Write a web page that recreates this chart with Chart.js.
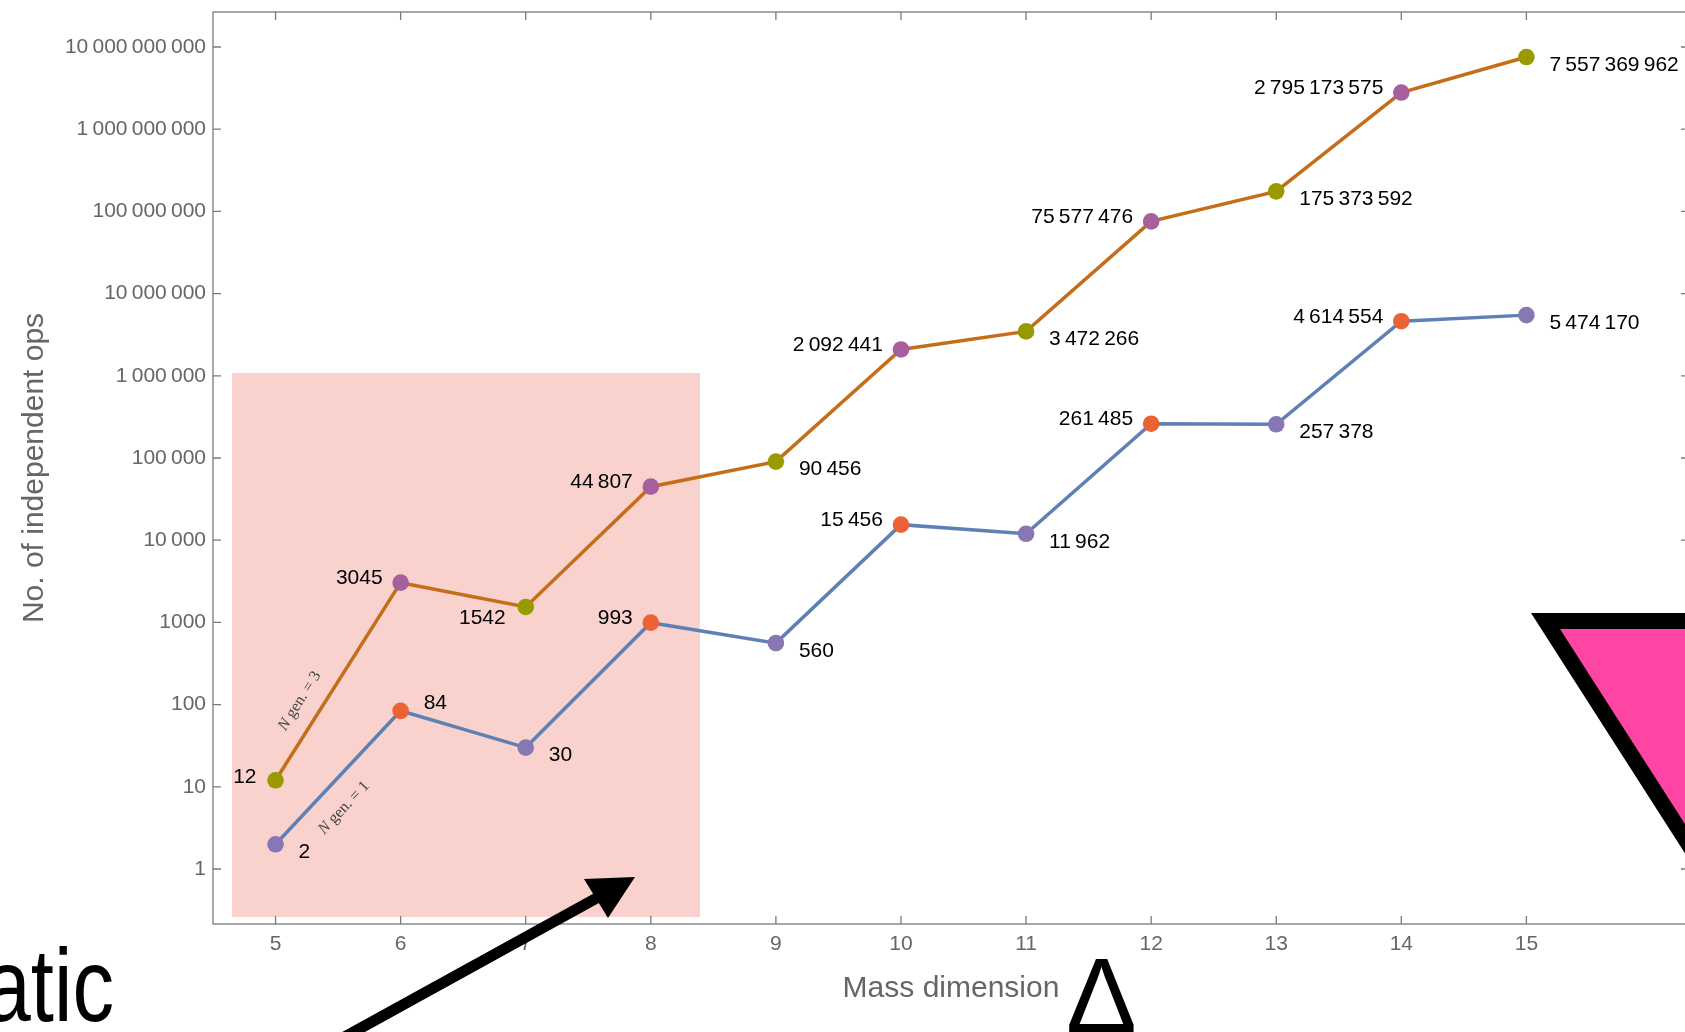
<!DOCTYPE html>
<html>
<head>
<meta charset="utf-8">
<script src="https://cdn.jsdelivr.net/npm/chart.js@4.4.1/dist/chart.umd.min.js"></script>
<style>
html, body { margin: 0; padding: 0; background: #fff; overflow: hidden; }
#wrap { width: 1685px; height: 1032px; overflow: hidden; position: relative; }
canvas { display: block; }
</style>
</head>
<body>
<div id="wrap"><canvas id="opsChart" width="1700" height="1032"></canvas></div>
<script>
const massDims = [5, 6, 7, 8, 9, 10, 11, 12, 13, 14, 15];
const opsGen3 = [12, 3045, 1542, 44807, 90456, 2092441, 3472266, 75577476, 175373592, 2795173575, 7557369962];
const opsGen1 = [2, 84, 30, 993, 560, 15456, 11962, 261485, 257378, 4614554, 5474170];
const yTicks = [1, 10, 100, 1000, 1e4, 1e5, 1e6, 1e7, 1e8, 1e9, 1e10];
const xTicks = [5, 6, 7, 8, 9, 10, 11, 12, 13, 14, 15];

// which side of its point each number label sits on
const sideGen3 = ['l', 'ul', 'dl', 'ul', 'dr', 'ul', 'dr', 'ul', 'dr', 'ul', 'dr'];
const sideGen1 = ['dr', 'ur', 'dr', 'ul', 'dr', 'ul', 'dr', 'ul', 'dr', 'ul', 'dr'];

const FONT = '"Liberation Sans", Arial, Helvetica, sans-serif';
const GRAY = '#666666';

function fmt(n) {
    const s = String(Math.round(n));
    if (s.length <= 4) return s;
    let out = '';
    for (let i = 0; i < s.length; i++) {
        if (i > 0 && (s.length - i) % 3 === 0) out += '\u2009';
        out += s[i];
    }
    return out;
}

const offsets = {
    ul: { dx: -18, dy: -4, align: 'right' },
    dl: { dx: -20, dy: 11, align: 'right' },
    dr: { dx: 23, dy: 8, align: 'left' },
    ur: { dx: 23, dy: -8, align: 'left' },
    l:  { dx: -19, dy: -3, align: 'right' }
};

const pinkBox = {
    id: 'pinkBox',
    beforeDatasetsDraw(chart) {
        const ctx = chart.ctx;
        ctx.save();
        ctx.fillStyle = '#f9d1cd';
        ctx.fillRect(232, 373, 468, 544);
        ctx.restore();
    }
};

const frame = {
    id: 'frame',
    beforeDatasetsDraw(chart) {
        const { ctx, chartArea: a, scales } = chart;
        ctx.save();
        ctx.strokeStyle = '#7a7a7a';
        ctx.lineWidth = 1.3;
        ctx.strokeRect(a.left, a.top, a.right - a.left, a.bottom - a.top);
        ctx.beginPath();
        xTicks.forEach(v => {
            const x = scales.x.getPixelForValue(v);
            ctx.moveTo(x, a.bottom); ctx.lineTo(x, a.bottom - 8);
            ctx.moveTo(x, a.top); ctx.lineTo(x, a.top + 8);
        });
        yTicks.forEach(v => {
            const y = scales.y.getPixelForValue(v);
            ctx.moveTo(a.left, y); ctx.lineTo(a.left + 8, y);
            ctx.moveTo(a.right, y); ctx.lineTo(a.right - 8, y);
        });
        ctx.stroke();
        ctx.restore();
    }
};

function segLabel(ctx, p0, p1, along, perp, num) {
    const dx = p1.x - p0.x, dy = p1.y - p0.y;
    const len = Math.hypot(dx, dy);
    const ux = dx / len, uy = dy / len;
    const cx = (p0.x + p1.x) / 2 + along * ux + perp * uy;
    const cy = (p0.y + p1.y) / 2 + along * uy - perp * ux;
    ctx.save();
    ctx.translate(cx, cy);
    ctx.rotate(Math.atan2(dy, dx));
    ctx.fillStyle = '#444';
    ctx.textBaseline = 'middle';
    ctx.textAlign = 'left';
    const fN = 'italic 16px "Liberation Serif", "Times New Roman", serif';
    const fR = '16px "Liberation Serif", "Times New Roman", serif';
    const rest = ' gen. = ' + num;
    ctx.font = fN;
    const wN = ctx.measureText('N').width;
    ctx.font = fR;
    const wR = ctx.measureText(rest).width;
    const x0 = -(wN + wR) / 2;
    ctx.font = fN;
    ctx.fillText('N', x0, 0);
    ctx.font = fR;
    ctx.fillText(rest, x0 + wN, 0);
    ctx.restore();
}

const callouts = {
    id: 'callouts',
    afterDatasetsDraw(chart) {
        const ctx = chart.ctx;
        ctx.save();
        ctx.font = '21px ' + FONT;
        ctx.fillStyle = '#000';
        ctx.textBaseline = 'middle';
        [[0, opsGen3, sideGen3], [1, opsGen1, sideGen1]].forEach(([di, vals, sides]) => {
            const pts = chart.getDatasetMeta(di).data;
            vals.forEach((v, i) => {
                const o = offsets[sides[i]];
                ctx.textAlign = o.align;
                ctx.fillText(fmt(v), pts[i].x + o.dx, pts[i].y + o.dy);
            });
        });
        ctx.restore();
        const g3 = chart.getDatasetMeta(0).data;
        const g1 = chart.getDatasetMeta(1).data;
        segLabel(ctx, g3[0], g3[1], -37, 22, 3);
        segLabel(ctx, g1[0], g1[1], -18, -25, 1);
    }
};

const overlays = {
    id: 'overlays',
    afterDraw(chart) {
        const ctx = chart.ctx;
        ctx.save();
        // arrow
        ctx.strokeStyle = '#000';
        ctx.fillStyle = '#000';
        ctx.lineWidth = 11;
        ctx.beginPath();
        ctx.moveTo(330, 1045);
        ctx.lineTo(604, 894);
        ctx.stroke();
        ctx.beginPath();
        ctx.moveTo(635, 877);
        ctx.lineTo(584, 879);
        ctx.lineTo(608, 918);
        ctx.closePath();
        ctx.fill();
        // pink triangle
        ctx.beginPath();
        ctx.moveTo(1531, 613); ctx.lineTo(1931, 613); ctx.lineTo(1731, 925);
        ctx.closePath();
        ctx.fill();
        ctx.fillStyle = '#ff45a3';
        ctx.beginPath();
        ctx.moveTo(1560, 629); ctx.lineTo(1902, 629); ctx.lineTo(1731, 896);
        ctx.closePath();
        ctx.fill();
        // slide text
        ctx.fillStyle = '#000';
        ctx.textBaseline = 'alphabetic';
        ctx.save();
        ctx.translate(114, 1021);
        ctx.scale(0.8, 1);
        ctx.textAlign = 'right';
        ctx.font = '104px ' + FONT;
        ctx.fillText('atic', 0, 0);
        ctx.restore();
        ctx.textAlign = 'left';
        ctx.font = '106px ' + FONT;
        ctx.fillText('\u0394', 1066, 1032);
        ctx.restore();
    }
};

Chart.defaults.font.family = FONT;

new Chart(document.getElementById('opsChart').getContext('2d'), {
    type: 'line',
    data: {
        datasets: [{
            label: 'N gen. = 3',
            data: massDims.map((d, i) => ({ x: d, y: opsGen3[i] })),
            borderColor: '#c56e1a',
            borderWidth: 3.5,
            pointRadius: 8.3,
            pointBorderWidth: 0,
            pointBackgroundColor: massDims.map(d => d % 2 ? '#989a00' : '#a5609d'),
            tension: 0
        }, {
            label: 'N gen. = 1',
            data: massDims.map((d, i) => ({ x: d, y: opsGen1[i] })),
            borderColor: '#5e81b5',
            borderWidth: 3.5,
            pointRadius: 8.3,
            pointBorderWidth: 0,
            pointBackgroundColor: massDims.map(d => d % 2 ? '#8778b3' : '#eb6235'),
            tension: 0
        }]
    },
    options: {
        responsive: false,
        animation: false,
        devicePixelRatio: 1,
        layout: { padding: { left: 0, top: 12, right: 11, bottom: 0 } },
        plugins: { legend: { display: false }, tooltip: { enabled: false } },
        scales: {
            x: {
                type: 'linear',
                min: 4.5,
                max: 16.3,
                afterBuildTicks: s => { s.ticks = xTicks.map(v => ({ value: v })); },
                afterFit: s => { s.height = 108; s.paddingLeft = 0; s.paddingRight = 0; },
                grid: { display: false, drawTicks: false },
                border: { display: false },
                ticks: { color: GRAY, font: { size: 21 }, padding: 8, autoSkip: false, maxRotation: 0,
                    callback: v => String(v) },
                title: { display: true, text: 'Mass dimension', color: GRAY, font: { size: 30 },
                    padding: { top: 0, bottom: 25 } }
            },
            y: {
                type: 'logarithmic',
                min: 0.2143,
                max: 2.667e10,
                afterBuildTicks: s => { s.ticks = yTicks.map(v => ({ value: v })); },
                afterFit: s => { s.width = 213; s.paddingTop = 0; s.paddingBottom = 0; },
                grid: { display: false, drawTicks: false },
                border: { display: false },
                ticks: { color: GRAY, font: { size: 21 }, padding: 7, autoSkip: false,
                    callback: v => fmt(v) },
                title: { display: true, text: 'No. of independent ops', color: GRAY, font: { size: 30 },
                    padding: { top: 17, bottom: 0 } }
            }
        }
    },
    plugins: [pinkBox, frame, callouts, overlays]
});
</script>
</body>
</html>
